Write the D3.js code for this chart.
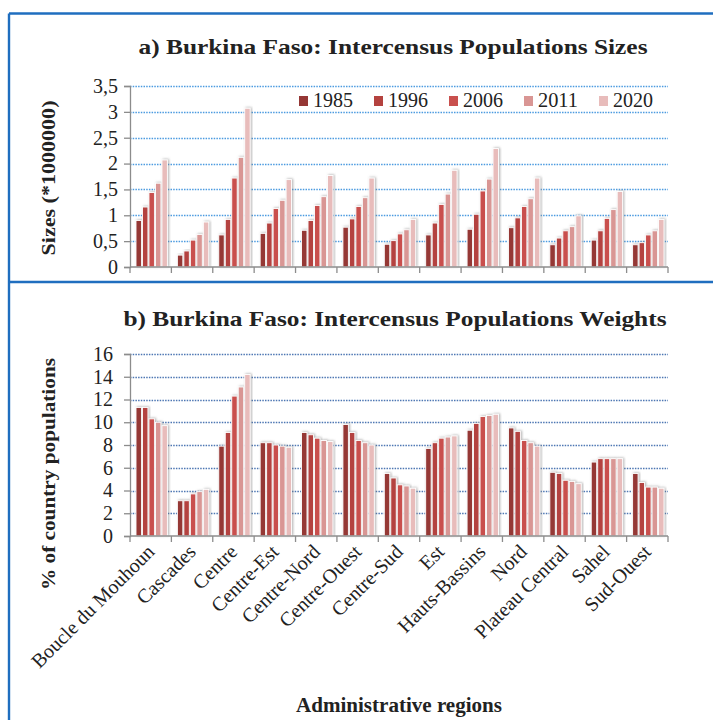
<!DOCTYPE html>
<html>
<head>
<meta charset="utf-8">
<script src="https://cdn.jsdelivr.net/npm/d3@7"></script>
<style>
  html, body { margin: 0; padding: 0; background: #fff; }
  svg { display: block; }
  text { font-family: "Liberation Serif", "DejaVu Serif", serif; fill: #222; }
</style>
</head>
<body>
<svg id="chart" width="713" height="720"></svg>
<script>
// Census years and administrative regions
const years = ["1985", "1996", "2006", "2011", "2020"];
const regions = ["Boucle du Mouhoun", "Cascades", "Centre", "Centre-Est", "Centre-Nord",
  "Centre-Ouest", "Centre-Sud", "Est", "Hauts-Bassins", "Nord", "Plateau Central", "Sahel", "Sud-Ouest"];

// Population sizes (millions), one value per region for each census year
const sizes1985 = [0.90, 0.23, 0.62, 0.65, 0.71, 0.77, 0.44, 0.62, 0.73, 0.76, 0.43, 0.52, 0.43];
const sizes1996 = [1.16, 0.31, 0.92, 0.85, 0.90, 0.93, 0.51, 0.85, 1.02, 0.95, 0.56, 0.70, 0.47];
const sizes2006 = [1.44, 0.52, 1.72, 1.13, 1.19, 1.17, 0.64, 1.21, 1.47, 1.17, 0.70, 0.94, 0.62];
const sizes2011 = [1.62, 0.63, 2.12, 1.29, 1.36, 1.34, 0.72, 1.41, 1.70, 1.32, 0.78, 1.11, 0.70];
const sizes2020 = [2.07, 0.87, 3.07, 1.69, 1.77, 1.72, 0.92, 1.87, 2.29, 1.72, 0.99, 1.46, 0.92];

// Share of the country population (%)
const weights1985 = [11.3, 3.1, 7.9, 8.2, 9.1, 9.8, 5.5, 7.7, 9.3, 9.5, 5.6, 6.5, 5.5];
const weights1996 = [11.3, 3.1, 9.1, 8.2, 8.9, 9.1, 5.1, 8.2, 9.9, 9.2, 5.5, 6.8, 4.7];
const weights2006 = [10.3, 3.7, 12.3, 8.0, 8.6, 8.4, 4.5, 8.6, 10.5, 8.4, 4.9, 6.8, 4.3];
const weights2011 = [10.0, 3.9, 13.1, 7.9, 8.4, 8.2, 4.4, 8.7, 10.6, 8.2, 4.8, 6.8, 4.3];
const weights2020 = [9.7, 4.1, 14.2, 7.8, 8.3, 8.0, 4.2, 8.8, 10.7, 7.9, 4.6, 6.8, 4.2];

// Axis ticks
const sizeTicks = [0, 0.5, 1, 1.5, 2, 2.5, 3, 3.5];
const weightTicks = [0, 2, 4, 6, 8, 10, 12, 14, 16];

const sizeSeries = [sizes1985, sizes1996, sizes2006, sizes2011, sizes2020];
const weightSeries = [weights1985, weights1996, weights2006, weights2011, weights2020];
const colors = ["#953735", "#B4423F", "#C9504E", "#D99694", "#E8BCBB"];

const svg = d3.select("#chart");
const color = d3.scaleOrdinal().domain(years).range(colors);

// Soft shadow behind every bar
const defs = svg.append("defs");
const f = defs.append("filter").attr("id", "shadow")
  .attr("x", "-50%").attr("y", "-10%").attr("width", "200%").attr("height", "120%");
f.append("feDropShadow").attr("dx", 1.2).attr("dy", -0.5).attr("stdDeviation", 1.1)
  .attr("flood-color", "#777").attr("flood-opacity", 0.55);

// Frame lines
const frame = svg.append("g").attr("stroke", "#1F6EBF").attr("stroke-width", 2.4).attr("fill", "none");
frame.append("line").attr("x1", 9).attr("x2", 713).attr("y1", 13.5).attr("y2", 13.5);
frame.append("line").attr("x1", 9).attr("x2", 9).attr("y1", 13.5).attr("y2", 720);
frame.append("line").attr("x1", 9).attr("x2", 713).attr("y1", 282).attr("y2", 282);

const xLeft = 130, xRight = 668;
const x0 = d3.scaleBand().domain(regions).range([xLeft, xRight]).padding(0);
const x1 = d3.scaleBand().domain(years).range([6, x0.bandwidth() - 4]).paddingInner(0.16);

function panel(opts) {
  const g = svg.append("g");
  const y = d3.scaleLinear().domain(opts.domain).range([opts.y0, opts.y1]);

  // dotted gridlines
  g.append("g").selectAll("line").data(opts.ticks.filter(t => t > 0)).join("line")
    .attr("x1", xLeft).attr("x2", xRight)
    .attr("y1", d => Math.round(y(d)) + 0.5).attr("y2", d => Math.round(y(d)) + 0.5)
    .attr("stroke", opts.gridColor).attr("stroke-width", 1.3).attr("stroke-dasharray", "1.5,1.2");

  // grouped bars
  const rows = regions.map((r, i) => ({ region: r, values: years.map((yr, k) => ({ year: yr, value: opts.series[k][i] })) }));
  g.append("g").selectAll("g").data(rows).join("g")
    .attr("transform", d => `translate(${x0(d.region)},0)`)
    .selectAll("rect").data(d => d.values).join("rect")
    .attr("x", d => x1(d.year))
    .attr("width", x1.bandwidth())
    .attr("y", d => y(d.value))
    .attr("height", d => y(0) - y(d.value))
    .attr("fill", d => color(d.year))
    .attr("stroke", "#fff").attr("stroke-width", 0.9)
    .attr("filter", "url(#shadow)");

  // y axis
  const ya = g.append("g").attr("transform", `translate(${xLeft},0)`)
    .call(d3.axisLeft(y).tickValues(opts.ticks).tickSize(6).tickPadding(opts.tickPad)
      .tickFormat(d => String(d).replace(".", ",")));
  ya.select(".domain").attr("stroke", "#8c8c8c").attr("stroke-width", 1.3);
  ya.selectAll(".tick line").attr("stroke", "#8c8c8c").attr("stroke-width", 1.3);
  ya.selectAll(".tick text").attr("font-size", 20).attr("font-family", "Liberation Serif, serif").attr("fill", "#333");

  // x axis baseline with category boundary ticks
  const xa = g.append("g");
  xa.append("line").attr("x1", xLeft).attr("x2", xRight).attr("y1", y(0)).attr("y2", y(0))
    .attr("stroke", "#8c8c8c").attr("stroke-width", 1.3);
  const bounds = regions.map(r => x0(r)).concat([xRight]);
  xa.selectAll("line.b").data(bounds).join("line").attr("class", "b")
    .attr("x1", d => d).attr("x2", d => d).attr("y1", y(0)).attr("y2", y(0) + 6)
    .attr("stroke", "#8c8c8c").attr("stroke-width", 1.3);

  // title
  g.append("text").attr("x", opts.titleX).attr("y", opts.titleY).attr("text-anchor", "middle")
    .attr("font-size", 22).attr("font-weight", "bold").attr("fill", "#111")
    .attr("textLength", opts.titleLen).attr("lengthAdjust", "spacingAndGlyphs")
    .text(opts.title);

  // y axis label
  g.append("text").attr("transform", `translate(${opts.labelX},${opts.labelY}) rotate(-90)`)
    .attr("text-anchor", "middle").attr("font-size", 18).attr("font-weight", "bold")
    .attr("textLength", opts.labelLen).attr("lengthAdjust", "spacingAndGlyphs").attr("fill", "#111")
    .text(opts.yLabel);
  return { g, y };
}

// a) sizes
panel({
  domain: [0, 3.5], y0: 267, y1: 86, ticks: sizeTicks, series: sizeSeries, tickPad: 6,
  gridColor: "#4C9BE0", title: "a) Burkina Faso: Intercensus Populations Sizes",
  titleX: 393, titleY: 54, titleLen: 509,
  yLabel: "Sizes (*1000000)", labelX: 55, labelY: 178, labelLen: 155
});

// legend
const legend = svg.append("g").selectAll("g").data(years).join("g")
  .attr("transform", (d, i) => `translate(${299 + i * 75},92)`);
legend.append("rect").attr("width", 9).attr("height", 10).attr("y", 4).attr("fill", d => color(d));
legend.append("text").attr("x", 14).attr("y", 15).attr("font-size", 20).attr("fill", "#333")
  .attr("textLength", 40).attr("lengthAdjust", "spacingAndGlyphs").text(d => d);

// b) weights
const pb = panel({
  domain: [0, 16], y0: 536, y1: 354, ticks: weightTicks, series: weightSeries, tickPad: 11,
  gridColor: "#4E77B3", title: "b) Burkina Faso: Intercensus Populations Weights",
  titleX: 395, titleY: 326, titleLen: 543,
  yLabel: "% of country populations", labelX: 55, labelY: 474, labelLen: 232
});

// rotated region names
pb.g.append("g").selectAll("text").data(regions).join("text")
  .attr("transform", d => `translate(${x0(d) + x0.bandwidth() / 2 + 5},${553}) rotate(-45)`)
  .attr("text-anchor", "end").attr("font-size", 20).attr("fill", "#333")
  .text(d => d);

svg.append("text").attr("x", 399).attr("y", 712).attr("text-anchor", "middle")
  .attr("font-size", 20).attr("font-weight", "bold").attr("fill", "#111")
  .attr("textLength", 206).attr("lengthAdjust", "spacingAndGlyphs")
  .text("Administrative regions");
</script>
</body>
</html>
